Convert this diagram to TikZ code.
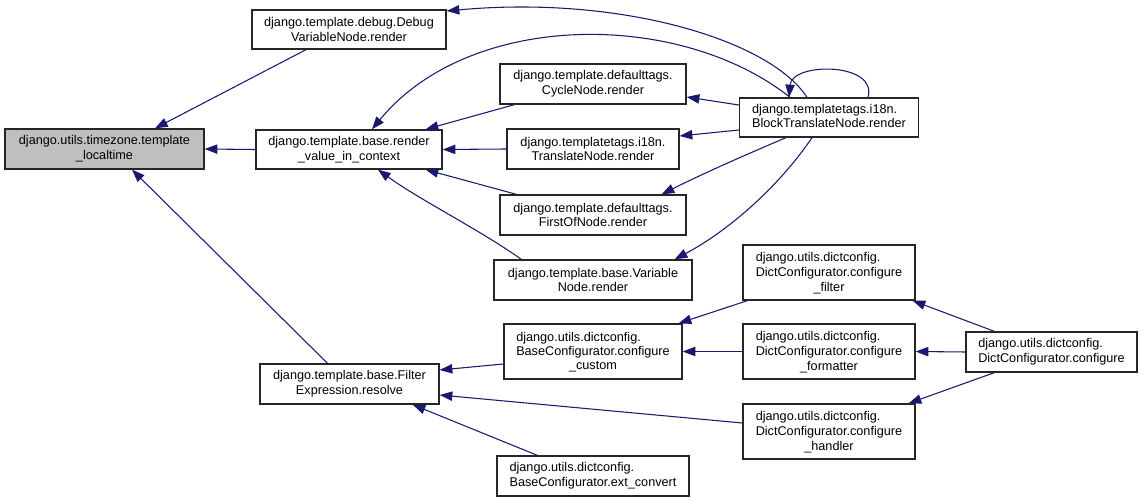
\documentclass[tikz,border=0pt]{standalone}
\usepackage{fontspec}
\setmainfont{Liberation Sans}
\usetikzlibrary{arrows.meta,calc}
\definecolor{navyedge}{HTML}{191970}
\definecolor{grayfill}{HTML}{BFBFBF}
\newcommand\lftblock[1]{\begin{tabular}{@{}l@{}}#1\end{tabular}}
\begin{document}
\begin{tikzpicture}[x=0.75pt,y=-0.75pt,
  box/.style={draw=black!85, line width=1pt, fill=white, rectangle, inner sep=0pt,
    align=center, font=\fontsize{9.5}{11}\selectfont},
  wd/.style={minimum width=#1*0.75pt},
  ht/.style={minimum height=#1*0.75pt},
  edge/.style={draw=navyedge, line width=0.8pt, -{Triangle[length=9.5pt,width=7pt]}}]
\useasboundingbox (0,0) rectangle (1143,502);

\node[box, wd=199, ht=40, fill=grayfill] (A) at (104.5,149) {django.utils.timezone.template\\\_localtime};
\node[box, wd=194, ht=39] (B) at (349,29.5) {django.template.debug.Debug\\VariableNode.render};
\node[box, wd=186, ht=39] (C) at (349,149.5) {django.template.base.render\\\_value\_in\_context};
\node[box, wd=186, ht=40] (D) at (593,84) {django.template.defaulttags.\\CycleNode.render};
\node[box, wd=172, ht=40] (E) at (593,149) {django.templatetags.i18n.\\TranslateNode.render};
\node[box, wd=186, ht=40] (F) at (593,215) {django.template.defaulttags.\\FirstOfNode.render};
\node[box, wd=198, ht=40] (G) at (593,280) {django.template.base.Variable\\Node.render};
\node[box, wd=179, ht=39] (H) at (829,117.5) {\lftblock{django.templatetags.i18n.\\BlockTranslateNode.render}};
\node[box, wd=172, ht=55] (I) at (829,272.5) {\lftblock{django.utils.dictconfig.\\DictConfigurator.configure}\\\_filter};
\node[box, wd=172, ht=55] (J) at (829,351.5) {\lftblock{django.utils.dictconfig.\\DictConfigurator.configure}\\\_formatter};
\node[box, wd=172, ht=55] (K) at (829,431.5) {\lftblock{django.utils.dictconfig.\\DictConfigurator.configure}\\\_handler};
\node[box, wd=178, ht=55] (L) at (593,351.5) {\lftblock{django.utils.dictconfig.\\BaseConfigurator.configure}\\\_custom};
\node[box, wd=192, ht=40] (M) at (593,476) {\lftblock{django.utils.dictconfig.\\BaseConfigurator.ext\_convert}};
\node[box, wd=171, ht=40] (N) at (1051.5,352) {\lftblock{django.utils.dictconfig.\\DictConfigurator.configure}};
\node[box, wd=179, ht=40] (R) at (349.5,384) {django.template.base.Filter\\Expression.resolve};

% edges into A
\draw[edge] ($(B.south)+(-43,0)$) -- ($(A.north)+(50.5,0)$);
\draw[edge] (C.west) -- (A.east);
\draw[edge] ($(R.north)+(-22,0)$) -- ($(A.south)+(27.5,0)$);

% edges from H
\draw[edge] ($(H.north)+(-22,0)$) .. controls (770,40) and (620,-5) .. ($(B.east)+(0,-18.5)$);
\draw[edge] ($(H.north)+(-39,0)$) .. controls (680,10) and (470,10) .. ($(C.north)+(23,0)$);
\draw[edge] ($(H.west)+(0,-12.5)$) -- ($(D.east)+(0,13)$);
\draw[edge] ($(H.west)+(0,12.5)$) -- ($(E.east)+(0,-13)$);
\draw[edge] ($(H.south)+(-43,0)$) .. controls (745,155) and (700,175) .. ($(F.north east)+(-25,0)$);
\draw[edge] ($(H.south)+(-17,0)$) .. controls (780,185) and (730,230) .. ($(G.north east)+(-18,0)$);
\draw[edge] ($(H.north)+(39,0)$) .. controls (878,62) and (792,62) .. ($(H.north)+(-40,0)$);

% edges into C
\draw[edge] ($(D.south west)+(15,0)$) -- ($(C.north east)+(-17,0)$);
\draw[edge] (E.west) -- (C.east);
\draw[edge] ($(F.north west)+(17,0)$) -- ($(C.south east)+(-17,0)$);
\draw[edge] ($(G.north west)+(28,0)$) .. controls (480,230) and (420,200) .. ($(C.south)+(29,0)$);

% dictconfig edges
\draw[edge] ($(I.south west)+(5,0)$) -- ($(L.north east)+(-4,0)$);
\draw[edge] (J.west) -- (L.east);
\draw[edge] ($(N.north west)+(29,0)$) -- ($(I.south east)+(-3,0)$);
\draw[edge] (N.west) -- (J.east);
\draw[edge] ($(N.south west)+(29,0)$) -- ($(K.north east)+(-7,0)$);

% edges into R
\draw[edge] ($(L.west)+(0,12.5)$) -- ($(R.east)+(0,-14)$);
\draw[edge] ($(K.west)+(0,-8.5)$) -- ($(R.east)+(0,11)$);
\draw[edge] ($(M.north west)+(41,0)$) -- ($(R.south east)+(-27,0)$);
\end{tikzpicture}
\end{document}
